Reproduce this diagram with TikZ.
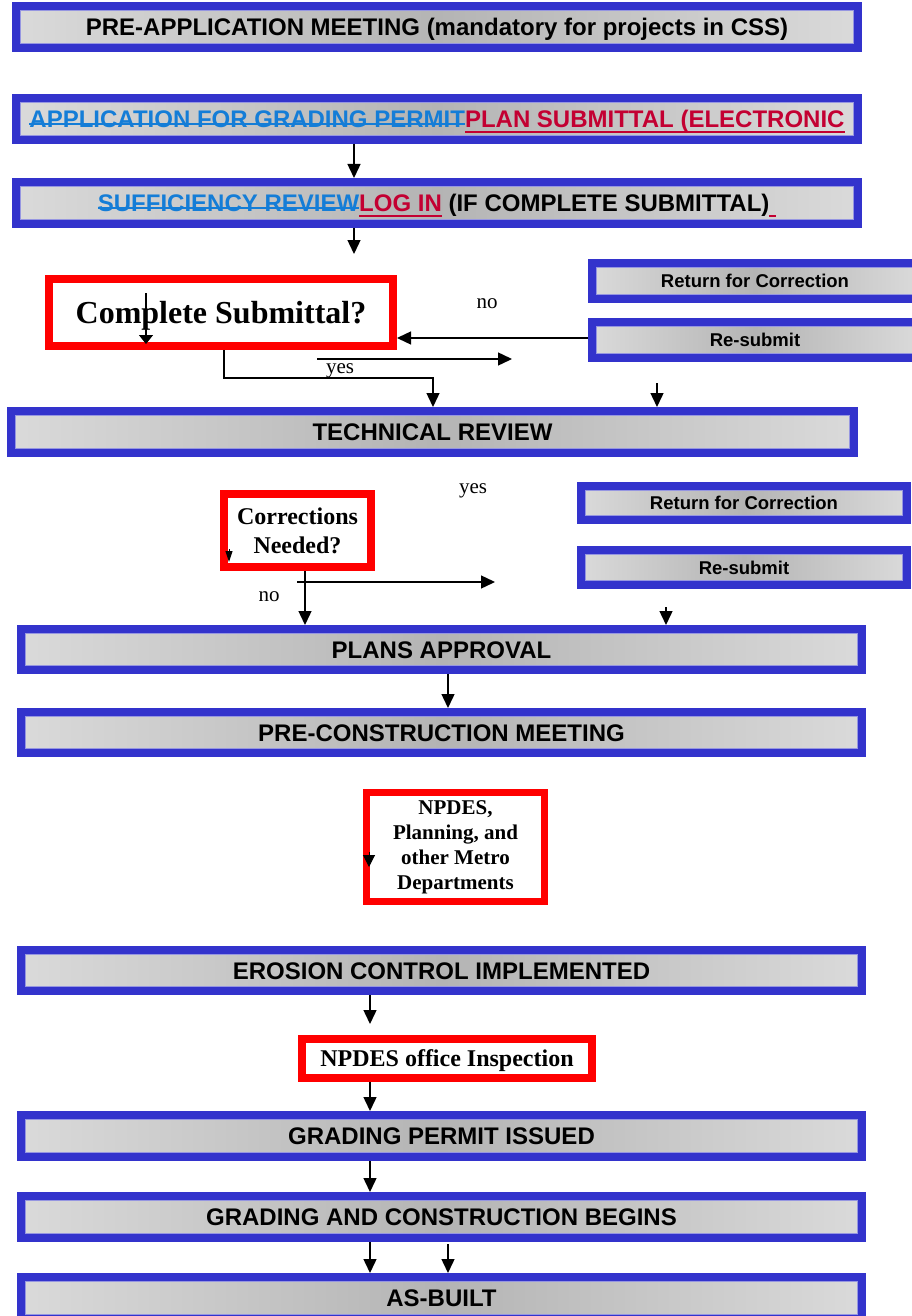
\documentclass[tikz,border=0pt]{standalone}
\usepackage{fontspec}
\setmainfont{Liberation Serif}
\newfontfamily\arialf{Liberation Sans}
\usetikzlibrary{arrows.meta}
\definecolor{boxblue}{RGB}{51,51,204}
\definecolor{boxred}{RGB}{255,0,0}
\definecolor{lightg}{RGB}{218,218,218}
\definecolor{darkg}{RGB}{180,180,180}
\definecolor{strikeblue}{RGB}{20,125,215}
\definecolor{linkred}{RGB}{195,0,50}
\definecolor{innerblue}{RGB}{150,150,225}
\newsavebox\txtbox
\newcommand\strk[1]{\sbox\txtbox{#1}\rlap{\usebox\txtbox}\rule[3pt]{\wd\txtbox}{1.8pt}}
\newcommand\undl[1]{\sbox\txtbox{#1}\rlap{\usebox\txtbox}\rule[-5pt]{\wd\txtbox}{1.8pt}}
\tikzset{
  bluebox/.style={draw=boxblue, line width=8pt, left color=lightg, right color=lightg,
    middle color=darkg, inner sep=0pt, text=black, text height=17.2pt, text depth=0pt,
    font=\arialf\bfseries\fontsize{24}{28}\selectfont},
  smallbox/.style={bluebox, text height=13.2pt, font=\arialf\bfseries\fontsize{18.5}{22}\selectfont},
  redbox/.style={draw=boxred, line width=8pt, fill=white, inner sep=0pt, align=center,
    font=\bfseries\fontsize{24}{29}\selectfont},
  arr/.style={line width=1.4pt, -{Triangle[width=13pt,length=14pt]}},
  lbl/.style={font=\fontsize{21}{24}\selectfont, inner sep=0pt},
  innerline/.style={draw=innerblue, line width=0.8pt}
}
\begin{document}
\begin{tikzpicture}[x=1pt,y=-1pt]
\path[use as bounding box] (0,0) rectangle (912,1316);
\clip (0,0) rectangle (912,1316);

% main boxes
\node[bluebox, minimum width=842pt, minimum height=42pt] (b1) at (437,27)
  {PRE-APPLICATION MEETING (mandatory for projects in CSS)};
\node[bluebox, minimum width=842pt, minimum height=42pt] (b2) at (437,119)
  {{\color{strikeblue}\strk{APPLICATION FOR GRADING PERMIT}}{\color{linkred}\undl{PLAN SUBMITTAL (ELECTRONIC}}};
\node[bluebox, minimum width=842pt, minimum height=42pt] (b3) at (437,203)
  {{\color{strikeblue}\strk{SUFFICIENCY REVIEW}}{\color{linkred}\undl{LOG IN}} (IF COMPLETE SUBMITTAL){\color{linkred}\rule[-5pt]{6.7pt}{1.8pt}}};

\node[redbox, minimum width=344pt, minimum height=67pt, text height=21.2pt, text depth=0pt,
  font=\bfseries\fontsize{32}{38}\selectfont] (r1) at (221,312.5) {Complete Submittal?};

\node[smallbox, minimum width=326pt, minimum height=36pt] (s1) at (755,281) {Return for Correction};
\node[smallbox, minimum width=326pt, minimum height=36pt] (s2) at (755,340) {Re-submit};

\node[bluebox, minimum width=843pt, minimum height=42pt] (b4) at (432.5,432) {TECHNICAL REVIEW};

\node[redbox, minimum width=147pt, minimum height=73pt] (r2) at (297.5,530.5) {Corrections\\Needed?};

\node[smallbox, minimum width=326pt, minimum height=34pt] (s3) at (744,503) {Return for Correction};
\node[smallbox, minimum width=326pt, minimum height=35pt] (s4) at (744,567.5) {Re-submit};

\node[bluebox, minimum width=841pt, minimum height=41pt] (b5) at (441.5,649.5) {PLANS APPROVAL};
\node[bluebox, minimum width=841pt, minimum height=41pt] (b6) at (441.5,732.5) {PRE-CONSTRUCTION MEETING};

\node[redbox, line width=7pt, minimum width=178pt, minimum height=109pt,
  font=\bfseries\fontsize{21}{25}\selectfont] (r3) at (455.5,847)
  {NPDES,\\Planning, and\\other Metro\\Departments};

\node[bluebox, minimum width=841pt, minimum height=41pt] (b7) at (441.5,970.5) {EROSION CONTROL IMPLEMENTED};
\node[redbox, minimum width=290pt, minimum height=39pt, text height=15.9pt, text depth=0pt] (r4) at (447,1058.5) {NPDES office Inspection};
\node[bluebox, minimum width=841pt, minimum height=42pt] (b8) at (441.5,1136) {GRADING PERMIT ISSUED};
\node[bluebox, minimum width=841pt, minimum height=42pt] (b9) at (441.5,1217) {GRADING AND CONSTRUCTION BEGINS};
\node[bluebox, minimum width=841pt, minimum height=42pt] (b10) at (441.5,1298) {AS-BUILT};

\foreach \n in {b1,b2,b3,s1,s2,b4,s3,s4,b5,b6,b7,b8,b9,b10}
  \draw[innerline] ([xshift=8.4pt,yshift=8.4pt]\n.south west) rectangle ([xshift=-8.4pt,yshift=-8.4pt]\n.north east);

% labels
\node[lbl] (no1) at (487,304) {no};
\node[lbl] (yes1) at (340,371) {yes};
\node[lbl] (yes2) at (473,491) {yes};
\node[lbl] (no2) at (269,597) {no};

% coordinates
\coordinate (x354) at (354,0);
\coordinate (a2e) at (354,254);
\coordinate (a3s) at (146,293);
\coordinate (a3e) at (146,344);
\coordinate (y338) at (0,338);
\coordinate (a5s) at (317,359);
\coordinate (a5e) at (512,359);
\coordinate (a6a) at (224,0);
\coordinate (a6c) at (433,378);
\coordinate (a7s) at (657,383);
\coordinate (a8s) at (229,549);
\coordinate (a8e) at (229,562);
\coordinate (x305) at (305,0);
\coordinate (a10s) at (297,582);
\coordinate (a10e) at (495,582);
\coordinate (a11s) at (666,607);
\coordinate (x448) at (448,0);
\coordinate (a13s) at (369,852);
\coordinate (a13e) at (369,867);
\coordinate (x370) at (370,0);
\coordinate (a14e) at (370,1024);
\coordinate (a18s) at (448,1244);

% connectors
\draw[arr] (b2.south -| x354) -- (b3.north -| x354);
\draw[arr] (b3.south -| a2e) -- (a2e);
\draw[line width=1.4pt, -{Triangle[width=14pt,length=9pt]}] (a3s) -- (a3e);
\draw[arr] (s2.west |- y338) -- (r1.east |- y338);
\draw[arr] (a5s) -- (a5e);
\draw[arr] (r1.south -| a6a) |- (a6c) -- (b4.north -| a6c);
\draw[arr] (a7s) -- (b4.north -| a7s);
\draw[line width=1pt, -{Triangle[width=7pt,length=11pt]}] (a8s) -- (a8e);
\draw[arr] (r2.south -| x305) -- (b5.north -| x305);
\draw[arr] (a10s) -- (a10e);
\draw[arr] (a11s) -- (b5.north -| a11s);
\draw[arr] (b5.south -| x448) -- (b6.north -| x448);
\draw[line width=1pt, -{Triangle[width=12pt,length=12pt]}] (a13s) -- (a13e);
\draw[arr] (b7.south -| x370) -- (a14e);
\draw[arr] (r4.south -| x370) -- (b8.north -| x370);
\draw[arr] (b8.south -| x370) -- (b9.north -| x370);
\draw[arr] (b9.south -| x370) -- (b10.north -| x370);
\draw[arr] (a18s) -- (b10.north -| a18s);
\end{tikzpicture}
\end{document}
